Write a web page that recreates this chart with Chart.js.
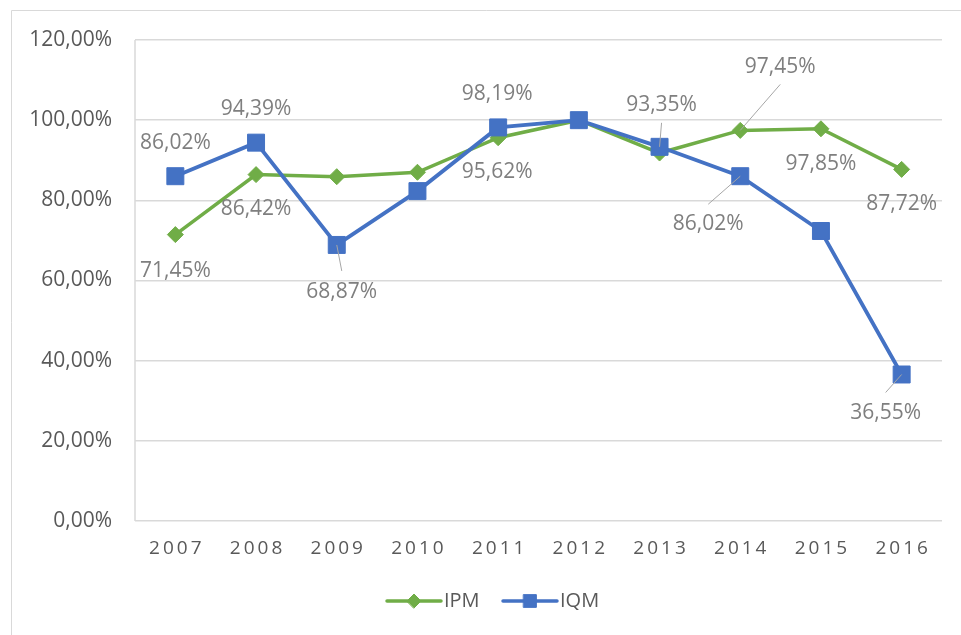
<!DOCTYPE html>
<html>
<head>
<meta charset="utf-8">
<script src="https://cdn.jsdelivr.net/npm/chart.js@4.4.1/dist/chart.umd.min.js"></script>
<style>
  html, body { margin: 0; padding: 0; background: #fff; }
  #wrap { width: 961px; height: 635px; }
</style>
</head>
<body>
<div id="wrap"><canvas id="chart" width="961" height="635"></canvas></div>
<script>
// données
const years = ['2007', '2008', '2009', '2010', '2011', '2012', '2013', '2014', '2015', '2016'];
const ipmValues = [71.45, 86.42, 85.9, 87.0, 95.62, 100, 91.8, 97.45, 97.85, 87.72];
const iqmValues = [86.02, 94.39, 68.87, 82.3, 98.19, 100, 93.35, 86.02, 72.35, 36.55];
const yTicks = [0, 20, 40, 60, 80, 100, 120];

const GREEN = '#70AD47';
const BLUE = '#4472C4';
const TEXT = '#595959';
const LABEL = '#7f7f7f';
const GRID = '#d9d9d9';

function fmt(v) {
    return v.toFixed(2).replace('.', ',') + '%';
}

// position des étiquettes : [dx, dy, début du trait de rappel] (null = pas d'étiquette)
const ipmLabelPos = [[0, 36], [0, 34], null, null, [-1, 34], null, null, [40, -63, 17], [0, 35], [0, 35]];
const iqmLabelPos = [[0, -33], [0, -34], [5, 47, -21], null, [-1, -33], null, [2, -42, 18], [-32, 48, -20], null, [-16, 39, -21]];

const excelLook = {
    id: 'excelLook',
    beforeDraw(chart) {
        const ctx = chart.ctx;
        const a = chart.chartArea;
        ctx.save();
        ctx.strokeStyle = GRID;
        ctx.lineWidth = 1;
        // cadre du graphique
        ctx.beginPath();
        ctx.moveTo(11.5, 635);
        ctx.lineTo(11.5, 10.5);
        ctx.lineTo(961, 10.5);
        ctx.stroke();
        // axe vertical à gauche
        ctx.lineWidth = 1.5;
        ctx.beginPath();
        ctx.moveTo(a.left, a.top);
        ctx.lineTo(a.left, a.bottom);
        ctx.stroke();
        ctx.restore();
    },
    afterDatasetsDraw(chart) {
        const ctx = chart.ctx;
        const sets = [[0, ipmLabelPos], [1, iqmLabelPos]];
        ctx.save();
        ctx.font = '21px "Open Sans"';
        ctx.textAlign = 'center';
        ctx.textBaseline = 'middle';
        sets.forEach(([di, posList]) => {
            const meta = chart.getDatasetMeta(di);
            const data = chart.data.datasets[di].data;
            meta.data.forEach((pt, i) => {
                const p = posList[i];
                if (!p) return;
                const lx = pt.x + p[0];
                const ly = pt.y + p[1];
                if (p.length > 2) {
                    ctx.strokeStyle = '#a6a6a6';
                    ctx.lineWidth = 1;
                    ctx.beginPath();
                    ctx.moveTo(lx, ly + p[2]);
                    ctx.lineTo(pt.x, pt.y);
                    ctx.stroke();
                }
                ctx.fillStyle = LABEL;
                ctx.fillText(fmt(data[i]), lx, ly);
            });
        });
        ctx.restore();
    },
    afterDraw(chart) {
        const ctx = chart.ctx;
        const xs = chart.scales.x;
        ctx.save();
        // années avec espacement
        ctx.font = '19px "Open Sans"';
        ctx.letterSpacing = '3px';
        ctx.fillStyle = TEXT;
        ctx.textAlign = 'center';
        ctx.textBaseline = 'middle';
        years.forEach((y, i) => {
            ctx.fillText(y, xs.getPixelForValue(i) + 1.5, chart.chartArea.bottom + 28);
        });
        ctx.letterSpacing = '0px';

        // légende
        const items = [
            { text: 'IPM', color: GREEN, style: 'rectRot', radius: 7, x: 387 },
            { text: 'IQM', color: BLUE, style: 'rect', radius: 9, x: 503 }
        ];
        const ly = 601;
        ctx.font = '20px "Open Sans"';
        ctx.textAlign = 'left';
        items.forEach(it => {
            ctx.strokeStyle = it.color;
            ctx.fillStyle = it.color;
            ctx.lineWidth = 3.5;
            ctx.lineCap = 'round';
            ctx.beginPath();
            ctx.moveTo(it.x, ly);
            ctx.lineTo(it.x + 54, ly);
            ctx.stroke();
            ctx.lineWidth = 1;
            Chart.helpers.drawPoint(ctx, { pointStyle: it.style, radius: it.radius, rotation: 0, borderWidth: 1 }, it.x + 27, ly);
            ctx.fillStyle = TEXT;
            ctx.fillText(it.text, it.x + 57, ly);
        });
        ctx.restore();
    }
};

new Chart(document.getElementById('chart'), {
    type: 'line',
    data: {
        labels: years,
        datasets: [
            {
                label: 'IPM',
                data: ipmValues,
                borderColor: GREEN,
                backgroundColor: GREEN,
                borderWidth: 3.5,
                pointStyle: 'rectRot',
                pointRadius: 8,
                pointBorderWidth: 1,
                tension: 0,
                order: 1,
                clip: false
            },
            {
                label: 'IQM',
                data: iqmValues,
                borderColor: BLUE,
                backgroundColor: BLUE,
                borderWidth: 3.8,
                pointStyle: 'rect',
                pointRadius: 12,
                pointBorderWidth: 1,
                tension: 0,
                order: 0,
                clip: false
            }
        ]
    },
    options: {
        responsive: false,
        animation: false,
        layout: { padding: { left: 0, top: 40, right: 19, bottom: 0 } },
        plugins: {
            legend: { display: false },
            tooltip: { enabled: false }
        },
        scales: {
            x: {
                offset: true,
                grid: { display: false },
                border: { display: false },
                ticks: { display: false },
                afterFit(scale) { scale.height = 114; }
            },
            y: {
                min: 0,
                max: 120,
                afterBuildTicks(scale) { scale.ticks = yTicks.map(v => ({ value: v })); },
                grid: { color: GRID, lineWidth: 1.5, drawTicks: false },
                border: { display: false },
                ticks: {
                    color: TEXT,
                    padding: 23,
                    font: { family: 'Open Sans', size: 21 },
                    callback: v => fmt(v)
                },
                afterFit(scale) { scale.width = 135; }
            }
        }
    },
    plugins: [excelLook]
});
</script>
</body>
</html>
